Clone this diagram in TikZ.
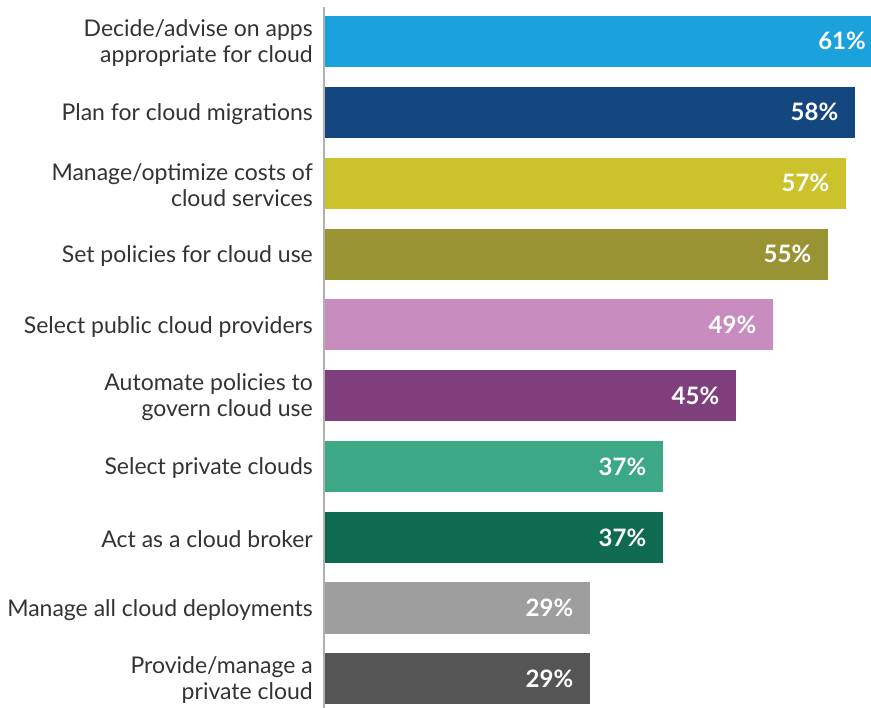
\documentclass[tikz,border=0pt]{standalone}
\usepackage{fontspec}
\setmainfont{Lato}
\usetikzlibrary{positioning}
\definecolor{txtgray}{HTML}{333333}
\definecolor{axisgray}{HTML}{B0B0B0}
\definecolor{cA}{HTML}{1BA1DB}
\definecolor{cB}{HTML}{144680}
\definecolor{cC}{HTML}{CBC22C}
\definecolor{cD}{HTML}{999433}
\definecolor{cE}{HTML}{C98CBE}
\definecolor{cF}{HTML}{7F3E7C}
\definecolor{cG}{HTML}{3CA886}
\definecolor{cH}{HTML}{0F6B50}
\definecolor{cI}{HTML}{9E9E9E}
\definecolor{cJ}{HTML}{555555}
\tikzstyle{bar} = [rectangle, anchor=west, minimum height=51pt, inner sep=0pt, draw=none]
\tikzstyle{cat} = [anchor=east, align=right, inner sep=0pt, yshift=-2pt, text=txtgray, font=\fontsize{23}{26}\selectfont]
\tikzstyle{val} = [anchor=east, inner sep=0pt, text=white, font=\bfseries\fontsize{24}{26}\selectfont]

\begin{document}
\begin{tikzpicture}[x=1pt, y=-1pt]
\useasboundingbox (0,0) rectangle (871,708);

\node (bar1) [bar, fill=cA, minimum width=557.6pt] at (325,41.3) {};
\node (bar2) [bar, fill=cB, minimum width=530pt] at (325,112.3) {};
\node (bar3) [bar, fill=cC, minimum width=521pt] at (325,183.3) {};
\node (bar4) [bar, fill=cD, minimum width=503pt] at (325,254.3) {};
\node (bar5) [bar, fill=cE, minimum width=448pt] at (325,324.8) {};
\node (bar6) [bar, fill=cF, minimum width=411pt] at (325,395.5) {};
\node (bar7) [bar, fill=cG, minimum width=338pt] at (325,466.5) {};
\node (bar8) [bar, fill=cH, minimum width=338pt] at (325,537.5) {};
\node (bar9) [bar, fill=cI, minimum width=265pt] at (325,608) {};
\node (bar10) [bar, fill=cJ, minimum width=265pt] at (325,678.5) {};

\node (val1) [val, left=17pt of bar1.east] {61\%};
\node (val2) [val, left=17pt of bar2.east] {58\%};
\node (val3) [val, left=17pt of bar3.east] {57\%};
\node (val4) [val, left=17pt of bar4.east] {55\%};
\node (val5) [val, left=17pt of bar5.east] {49\%};
\node (val6) [val, left=17pt of bar6.east] {45\%};
\node (val7) [val, left=17pt of bar7.east] {37\%};
\node (val8) [val, left=17pt of bar8.east] {37\%};
\node (val9) [val, left=17pt of bar9.east] {29\%};
\node (val10) [val, left=17pt of bar10.east] {29\%};

\node (cat1) [cat, left=12pt of bar1.west] {Decide/advise on apps\\appropriate for cloud};
\node (cat2) [cat, left=12pt of bar2.west] {Plan for cloud migrations};
\node (cat3) [cat, left=12pt of bar3.west] {Manage/optimize costs of\\cloud services};
\node (cat4) [cat, left=12pt of bar4.west] {Set policies for cloud use};
\node (cat5) [cat, left=12pt of bar5.west] {Select public cloud providers};
\node (cat6) [cat, left=12pt of bar6.west] {Automate policies to\\govern cloud use};
\node (cat7) [cat, left=12pt of bar7.west] {Select private clouds};
\node (cat8) [cat, left=12pt of bar8.west] {Act as a cloud broker};
\node (cat9) [cat, left=12pt of bar9.west] {Manage all cloud deployments};
\node (cat10) [cat, left=12pt of bar10.west] {Provide/manage a\\private cloud};

\coordinate (axtop) at (324,7);
\coordinate (axbot) at (324,708);
\draw [axisgray, line width=1.5pt] (axtop) -- (axbot);

\end{tikzpicture}
\end{document}
